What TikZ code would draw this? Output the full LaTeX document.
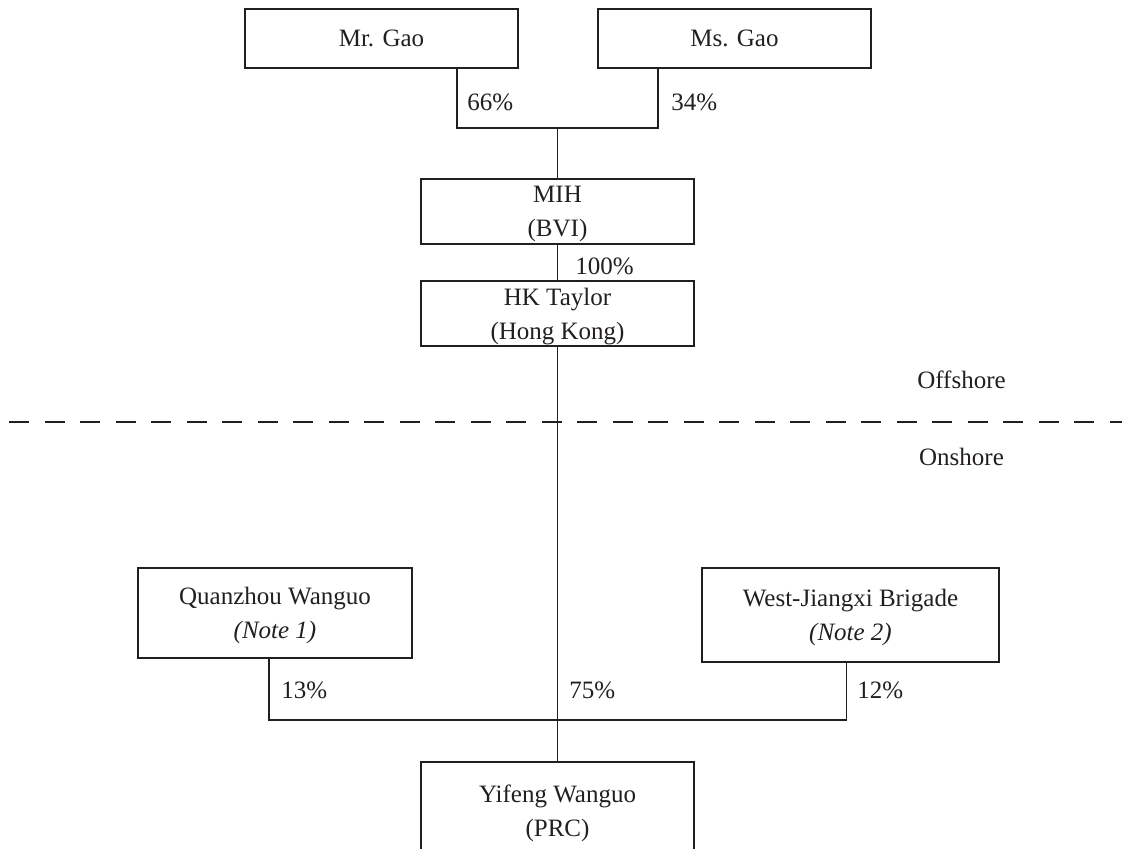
\documentclass[tikz,border=0pt]{standalone}
\usepackage{fontspec}
\setmainfont{Liberation Serif}
\definecolor{ink}{RGB}{35,31,32}
\begin{document}
\begin{tikzpicture}[x=0.5pt,y=-0.5pt,
  ent/.style={draw=ink,line width=0.7pt,fill=none,inner sep=0pt,outer sep=0pt,
    align=center,text=ink,text depth=0pt,font=\fontsize{12.5}{17}\selectfont},
  pct/.style={anchor=west,inner sep=0pt,text=ink,font=\fontsize{12.5}{15}\selectfont},
  zone/.style={inner sep=0pt,text=ink,font=\fontsize{12.5}{15}\selectfont},
  link/.style={draw=ink,line width=0.7pt},
  divider/.style={draw=ink,line width=1.35pt,dash pattern=on 10pt off 7.75pt}]
\useasboundingbox (0,0) rectangle (1122,848);
\clip (0,0) rectangle (1122,848);
% boxes
\node[ent,minimum width=136.5pt,minimum height=29.5pt] (mrgao) at (381.5,38.5) {Mr. Gao};
\node[ent,minimum width=136.5pt,minimum height=29.5pt] (msgao) at (734.5,38.5) {Ms. Gao};
\node[ent,minimum width=136.5pt,minimum height=32.5pt] (mih) at (557.5,211.5) {MIH\\(BVI)};
\node[ent,minimum width=136.5pt,minimum height=32.5pt] (hk) at (557.5,313.5) {HK Taylor\\(Hong Kong)};
\node[ent,minimum width=137pt,minimum height=45pt] (qz) at (275,613) {Quanzhou Wanguo\\\textit{(Note 1)}};
\node[ent,minimum width=148.5pt,minimum height=47pt] (wj) at (850.5,615) {West-Jiangxi Brigade\\\textit{(Note 2)}};
\node[ent,minimum width=136.5pt,minimum height=49pt] (yf) at (557.5,811) {Yifeng Wanguo\\(PRC)};
% helper coordinates
\coordinate (mrx) at (457,0);
\coordinate (msx) at (658,0);
\coordinate (jtop) at (557.5,128);
\coordinate (qzx) at (269,0);
\coordinate (wjx) at (846.5,0);
\coordinate (jbot) at (557.5,720);
\coordinate (dl) at (9.3,422);
\coordinate (dr) at (1122,422);
% connectors
\draw[link] (mrgao.south -| mrx) |- (jtop) -| (msgao.south -| msx);
\draw[link] (jtop) -- (mih.north);
\draw[link] (mih.south) -- (hk.north);
\draw[link] (hk.south) -- (yf.north);
\draw[link] (qz.south -| qzx) |- (jbot) -| (wj.south -| wjx);
% divider
\draw[divider] (dl) -- (dr);
% labels
\node[pct] (p66) at (467,102) {66\%};
\node[pct] (p34) at (671,102) {34\%};
\node[pct] (p100) at (575,266) {100\%};
\node[pct] (p13) at (281,690) {13\%};
\node[pct] (p75) at (569,690) {75\%};
\node[pct] (p12) at (857,690) {12\%};
\node[zone] (off) at (961.5,380) {Offshore};
\node[zone] (on) at (961.5,457) {Onshore};
\end{tikzpicture}
\end{document}
